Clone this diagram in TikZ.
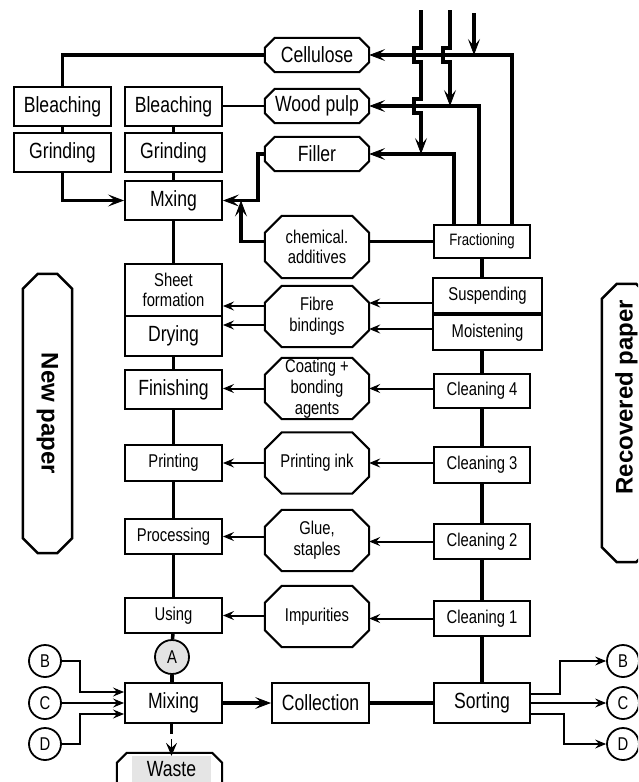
\documentclass[tikz,border=0pt]{standalone}
\usepackage{fontspec}
\usepackage{graphicx}
\setmainfont{Liberation Sans}[FakeStretch=0.8]
\newfontfamily\sidefont{Liberation Sans}
\usetikzlibrary{arrows.meta,calc}

\newcommand\szL{\fontsize{22}{24}\selectfont}
\newcommand\szM{\fontsize{18.5}{21}\selectfont}
\newcommand\szS{\fontsize{16.5}{19}\selectfont}

% octagonal outline around a named node, #3 = size of the cut corners
\newcommand\octframe[3][2pt]{%
  \draw[line width=#1]
    ($(#2.north west)+(#3pt,0pt)$) -- ($(#2.north east)+(-#3pt,0pt)$)
 -- ($(#2.north east)+(0pt,-#3pt)$) -- ($(#2.south east)+(0pt,#3pt)$)
 -- ($(#2.south east)+(-#3pt,0pt)$) -- ($(#2.south west)+(#3pt,0pt)$)
 -- ($(#2.south west)+(0pt,#3pt)$) -- ($(#2.north west)+(0pt,-#3pt)$) -- cycle;}

\tikzset{
  box/.style={draw, line width=2pt, rectangle, inner sep=0pt, align=center,
              minimum width=97pt, minimum height=39pt, font=\szL},
  oct/.style={inner sep=0pt, align=center, minimum width=104pt,
              minimum height=61pt, font=\szM},
  circ/.style={draw, circle, line width=1.8pt, inner sep=0pt,
               minimum size=32pt, font=\szM, fill=white},
  thinln/.style={line width=2pt},
  thickln/.style={line width=3.5pt},
  arr/.style={thinln, -{Stealth[length=11pt,width=9pt,inset=4pt,line width=1pt]}},
  tarr/.style={thickln, -{Stealth[length=16pt,width=12pt,inset=7pt,line width=0.8pt]}},
  side/.style={inner sep=0pt, minimum width=49pt, minimum height=279pt,
               font=\fontsize{24}{26}\sidefont\bfseries},
}

\begin{document}
\begin{tikzpicture}[x=1pt,y=-1pt]
\useasboundingbox (0,0) rectangle (638,782);
\clip (0,0) rectangle (638,782);
\fill[white] (0,0) rectangle (638,782);

% ---- new paper line (left)
\node[box] (bl1) at (62.5,106.5) {Bleaching};
\node[box] (gr1) at (62.5,152.5) {Grinding};
\node[box] (bl2) at (173.5,106.5) {Bleaching};
\node[box] (gr2) at (173.5,152.5) {Grinding};
\node[box] (mx) at (173.5,200.5) {Mxing};
\node[box, minimum height=52pt, font=\szM] (sheet) at (173.5,290) {Sheet\\[-1pt]formation};
\node[box, minimum height=40pt] (dry) at (173.5,336) {Drying};
\node[box] (fin) at (173.5,389.5) {Finishing};
\node[box, minimum height=36pt, font=\szM] (print) at (173.5,463) {Printing};
\node[box, minimum height=35pt, font=\szM] (proc) at (173.5,536.5) {Processing};
\node[box, minimum height=35pt, font=\szM] (using) at (173.5,615.5) {Using};
\node[circ, minimum size=34pt, fill=gray!22] (A) at (172,657) {A};
\node[box, minimum height=40pt] (mix) at (173.5,703) {Mixing};
\node[fill=gray!20, minimum width=79pt, minimum height=26pt, inner sep=0pt, font=\szL] (waste) at (171.5,769) {Waste};

% ---- materials (middle)
\node[oct, minimum height=34pt, font=\szL] (cell) at (317,55) {Cellulose};
\node[oct, minimum height=34pt, font=\szL] (wood) at (317,106) {Wood pulp};
\node[oct, minimum height=34pt, font=\szL] (filler) at (317,154) {Filler};
\node[oct, minimum height=62pt] (chem) at (317,247) {chemical.\\[-1pt]additives};
\node[oct] (fibre) at (317,316.5) {Fibre\\bindings};
\node[oct] (coat) at (317,388.5) {Coating +\\bonding\\agents};
\node[oct] (ink) at (317,463) {Printing ink};
\node[oct] (glue) at (317,540.5) {Glue,\\staples};
\node[oct] (imp) at (317,616.5) {Impurities};
\node[box, minimum height=40pt] (coll) at (320.5,703) {Collection};

% ---- recovered paper line (right)
\node[box, minimum width=96pt, minimum height=33pt, font=\szS] (frac) at (482,241.5) {Fractioning};
\node[box, minimum width=109pt, minimum height=35pt, font=\szM] (susp) at (487.5,295.5) {Suspending};
\node[box, minimum width=109pt, minimum height=35pt, font=\szM] (moist) at (487.5,332.5) {Moistening};
\node[box, minimum width=96pt, minimum height=34pt, font=\szM] (cl4) at (482,391) {Cleaning 4};
\node[box, minimum width=96pt, minimum height=36pt, font=\szM] (cl3) at (482,465) {Cleaning 3};
\node[box, minimum width=96pt, minimum height=35pt, font=\szM] (cl2) at (482,541.5) {Cleaning 2};
\node[box, minimum width=96pt, minimum height=35pt, font=\szM] (cl1) at (482,618.5) {Cleaning 1};
\node[box, minimum width=96pt, minimum height=40pt] (sort) at (482,703) {Sorting};

% ---- loop markers
\node[circ] (bL) at (45,661) {B};
\node[circ] (cL) at (45,703) {C};
\node[circ] (dL) at (45,744) {D};
\node[circ] (bR) at (623,661) {B};
\node[circ] (cR) at (623,703) {C};
\node[circ] (dR) at (623,744) {D};

% ---- side labels
\node[side] (newp) at (47.5,413.5) {\rotatebox{-90}{New paper}};
\node[side, minimum height=278pt] (recp) at (626.5,423) {\rotatebox{90}{\kern52pt Recovered paper}};

% ---- octagonal outlines
\octframe{cell}{10}
\octframe{wood}{10}
\octframe{filler}{10}
\octframe{chem}{17}
\octframe{fibre}{17}
\octframe{coat}{17}
\octframe{ink}{17}
\octframe{glue}{17}
\octframe{imp}{17}
\octframe[2.5pt]{newp}{15}
\octframe[2.5pt]{recp}{15}
\draw[line width=2pt]
  ($(waste.west)+(-15pt,-40pt)$) -- ($(waste.north west)+(-15pt,-7pt)$)
  -- ($(waste.north west)+(-5pt,3pt)$) -- ($(waste.north east)+(1pt,3pt)$)
  -- ($(waste.north east)+(11pt,-7pt)$) -- ($(waste.east)+(11pt,-40pt)$);

% ---- helper rows for the fibre bindings arrows
\coordinate (rA) at (0,303);
\coordinate (rB) at (0,329);
\coordinate (rC) at (0,306);
\coordinate (rD) at (0,325);
\coordinate (fx1) at (454,0);
\coordinate (fx2) at (479,0);
\coordinate (fx3) at (512,0);

% ---- raw material lines
\draw[thickln] (cell.west) -| (bl1.north);
\draw[thickln] (bl1) -- (gr1);
\draw[tarr] (gr1.south) |- (mx.west);
\draw[thinln] (wood.west) -- (wood.west -| bl2.east);
\draw[thickln] (bl2) -- (gr2);
\draw[thickln] (gr2) -- (mx);
\draw[tarr] (filler.west) -- ++(-7,0) |- (mx.east);
\coordinate (chemjoin) at ($(mx.east)+(18pt,0pt)$);
\draw[tarr] (chem.west |- frac.west) -| (chemjoin);
\draw[thickln] (chem.east |- frac.west) -- (frac.west);

% ---- fractions returned to the raw materials
\draw[tarr] (frac.north -| fx1) |- (filler.east);
\draw[tarr] (frac.north -| fx2) |- (wood.east);
\draw[tarr] (frac.north -| fx3) |- (cell.east);

% ---- incoming material, hopping over crossing lines
\coordinate (in1) at (421,10);
\coordinate (in2) at (450,10);
\coordinate (in3) at (474,13);
\draw[tarr] (in3) -- (in3 |- cell.east);
\draw[tarr] (in2) -- (450,48) -- ++(-7,0) -- ++(0,14) -- ++(7,0) -- (in2 |- wood.east);
\draw[tarr] (in1) -- (421,48) -- ++(-7,0) -- ++(0,14) -- ++(7,0) -- (421,99)
  -- ++(-7,0) -- ++(0,14) -- ++(7,0) -- (in1 |- filler.east);

% ---- main columns
\draw[thickln] (mx) -- (sheet);
\draw[thickln] (dry) -- (fin);
\draw[thickln] (fin) -- (print);
\draw[thickln] (print) -- (proc);
\draw[thickln] (proc) -- (using);
\draw[thickln] (using) -- (A);
\draw[thickln] (A.south) -- (A.south |- mix.north);
\draw[thickln] (frac.south) -- (frac.south |- susp.north);
\draw[thickln] (susp.south -| frac.south) -- (moist.north -| frac.south);
\draw[thickln] (moist.south -| cl4.north) -- (cl4.north);
\draw[thickln] (cl4) -- (cl3);
\draw[thickln] (cl3) -- (cl2);
\draw[thickln] (cl2) -- (cl1);
\draw[thickln] (cl1) -- (sort);

% ---- side streams
\draw[arr] (susp.west |- rA) -- (fibre.east |- rA);
\draw[arr] (moist.west |- rB) -- (fibre.east |- rB);
\draw[arr] (fibre.west |- rC) -- (sheet.east |- rC);
\draw[arr] (fibre.west |- rD) -- (dry.east |- rD);
\draw[arr] (cl4.west |- coat.east) -- (coat.east);
\draw[arr] (coat.west) -- (coat.west -| fin.east);
\draw[arr] (cl3.west |- ink.east) -- (ink.east);
\draw[arr] (ink.west) -- (ink.west -| print.east);
\draw[arr] (cl2.west) -- (cl2.west -| glue.east);
\draw[arr] (glue.west |- proc.east) -- (proc.east);
\draw[arr] (cl1.west) -- (cl1.west -| imp.east);
\draw[arr] (imp.west |- using.east) -- (using.east);

% ---- collection loop
\draw[tarr] (mix) -- (coll);
\draw[thickln] (coll) -- (sort);
\draw[arr] (bL.east) -- ++(18,0) |- ([yshift=11pt]mix.west);
\draw[arr] (cL) -- (mix.west);
\draw[arr] (dL.east) -- ++(18,0) |- ([yshift=-11pt]mix.west);
\draw[arr] ([yshift=9pt]sort.east) -- ++(29,0) |- (bR.west);
\draw[arr] (sort.east) -- (cR.west);
\draw[arr] ([yshift=-11pt]sort.east) -- ++(33,0) |- (dR.west);
% rejects: short heavy stub, then a light arrow into the waste
\draw[thickln] (mix.south -| waste.north) -- ++(0,10);
\draw[line width=1.5pt, shorten <=15pt,
      -{Stealth[length=13pt,width=11pt,inset=5pt,line width=1pt]}]
  (mix.south -| waste.north) -- (waste.north);
\end{tikzpicture}
\end{document}
